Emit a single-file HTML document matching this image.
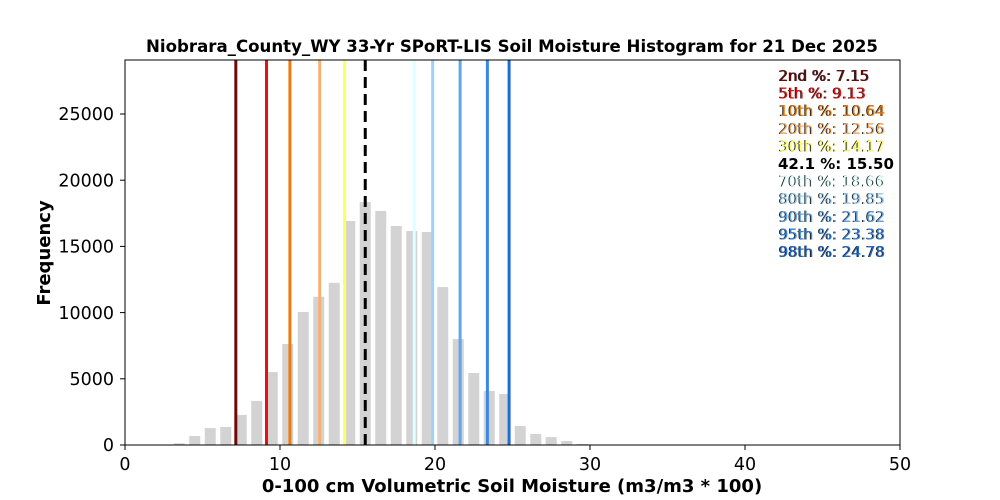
<!DOCTYPE html>
<html><head><style>body{margin:0;background:#fff}svg{display:block}text{font-family:"DejaVu Sans","Liberation Sans",sans-serif}</style></head>
<body>
<svg width="1000" height="500" xmlns="http://www.w3.org/2000/svg">
<rect width="1000" height="500" fill="#fff"/>
<g fill="#d3d3d3" id="bars"></g>
<g id="lines"></g>
<rect x="125" y="60" width="775" height="385" fill="none" stroke="#000" stroke-width="1"/>
<g font-size="17.5" text-anchor="middle" fill="#000">
<line x1="125" y1="445" x2="125" y2="450" stroke="#000"/><text x="125" y="470">0</text>
<line x1="280" y1="445" x2="280" y2="450" stroke="#000"/><text x="280" y="470">10</text>
<line x1="435" y1="445" x2="435" y2="450" stroke="#000"/><text x="435" y="470">20</text>
<line x1="590" y1="445" x2="590" y2="450" stroke="#000"/><text x="590" y="470">30</text>
<line x1="745" y1="445" x2="745" y2="450" stroke="#000"/><text x="745" y="470">40</text>
<line x1="900" y1="445" x2="900" y2="450" stroke="#000"/><text x="900" y="470">50</text>
</g>
<g font-size="17.5" text-anchor="end" fill="#000">
<line x1="120" y1="445" x2="125" y2="445" stroke="#000"/><text x="114" y="451">0</text>
<line x1="120" y1="378.8" x2="125" y2="378.8" stroke="#000"/><text x="114" y="385">5000</text>
<line x1="120" y1="312.6" x2="125" y2="312.6" stroke="#000"/><text x="114" y="319">10000</text>
<line x1="120" y1="246.4" x2="125" y2="246.4" stroke="#000"/><text x="114" y="252.6">15000</text>
<line x1="120" y1="180.2" x2="125" y2="180.2" stroke="#000"/><text x="114" y="186.4">20000</text>
<line x1="120" y1="114" x2="125" y2="114" stroke="#000"/><text x="114" y="120.2">25000</text>
</g>
<text x="512" y="52" font-size="16.6" font-weight="bold" text-anchor="middle">Niobrara_County_WY 33-Yr SPoRT-LIS Soil Moisture Histogram for 21 Dec 2025</text>
<text x="512" y="492" font-size="18" font-weight="bold" text-anchor="middle">0-100 cm Volumetric Soil Moisture (m3/m3 * 100)</text>
<text transform="translate(50,253) rotate(-90)" font-size="18" font-weight="bold" text-anchor="middle">Frequency</text>
<g font-size="15" id="leg"></g>
</svg>
<script>
var h=[[3.5,130],[4.5,680],[5.5,1280],[6.5,1360],[7.5,2270],[8.5,3330],[9.5,5510],[10.5,7630],[11.5,10050],[12.5,11200],[13.5,12250],[14.5,16920],[15.5,18350],[16.5,17680],[17.5,16540],[18.5,16160],[19.5,16090],[20.5,11930],[21.5,8000],[22.5,5440],[23.5,4080],[24.5,3850],[25.5,1440],[26.5,830],[27.5,600],[28.5,300],[29.5,80]];
var ns="http://www.w3.org/2000/svg",b=document.getElementById('bars');
h.forEach(function(d){var r=document.createElementNS(ns,'rect');var x=125+15.5*d[0];var hh=d[1]*0.01324;r.setAttribute('x',x-5.5);r.setAttribute('width',11);r.setAttribute('y',445-hh);r.setAttribute('height',hh);b.appendChild(r);});
var L=[[7.15,'#6b0a0a','2nd %: 7.15'],[9.13,'#e8100f','5th %: 9.13'],[10.64,'#ee7a10','10th %: 10.64'],[12.56,'#f8b070','20th %: 12.56'],[14.17,'#ffff60','30th %: 14.17'],[15.5,'#000','42.1 %: 15.50'],[18.66,'#e0ffff','70th %: 18.66'],[19.85,'#a0d2f8','80th %: 19.85'],[21.62,'#60a6ee','90th %: 21.62'],[23.38,'#3a88e6','95th %: 23.38'],[24.78,'#1f6cd6','98th %: 24.78']];
var g=document.getElementById('lines'),lg=document.getElementById('leg');
L.forEach(function(d,i){var l=document.createElementNS(ns,'line');var x=125+15.5*d[0];l.setAttribute('x1',x);l.setAttribute('x2',x);l.setAttribute('y1',60);l.setAttribute('y2',445);l.setAttribute('stroke',d[1]);l.setAttribute('stroke-width',3);if(d[0]==15.5)l.setAttribute('stroke-dasharray','11,6');g.appendChild(l);
var y=81+i*17.6;
if(d[0]==15.5){var t=document.createElementNS(ns,'text');t.setAttribute('x',778);t.setAttribute('y',y);t.setAttribute('font-weight','bold');t.textContent=d[2];lg.appendChild(t);return;}
var t0=document.createElementNS(ns,'text');t0.setAttribute('x',778);t0.setAttribute('y',y);t0.setAttribute('fill','#222');t0.textContent=d[2];lg.appendChild(t0);
var t=document.createElementNS(ns,'text');t.setAttribute('x',779);t.setAttribute('y',y);t.setAttribute('fill',d[1]);t.textContent=d[2];lg.appendChild(t);});
</script>
</body></html>
